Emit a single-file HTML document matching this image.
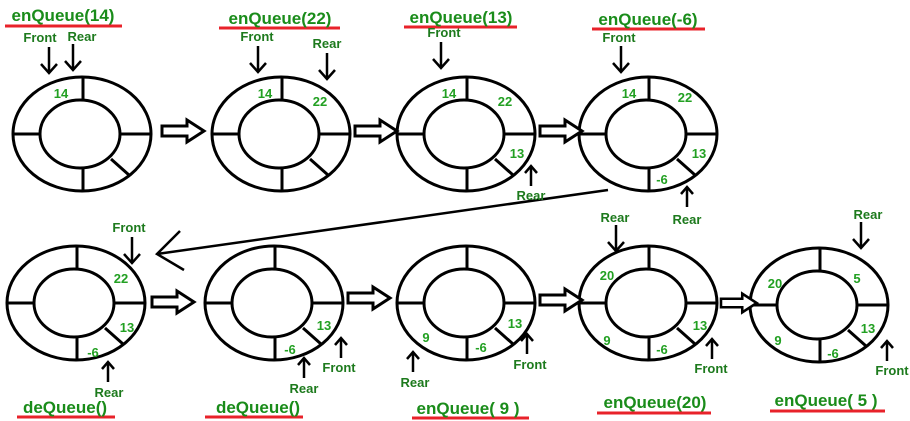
<!DOCTYPE html>
<html><head><meta charset="utf-8"><style>
html,body{margin:0;padding:0;background:#fff;}
svg{display:block;}
text{font-family:"Liberation Sans",sans-serif;font-weight:bold;}
.t{fill:#1a8c1a;font-size:17px;font-weight:bold;font-family:"Liberation Sans",sans-serif;}
.n{fill:#22a022;font-size:13px;}
.p{fill:#1d7a1d;font-size:13px;}
</style></head><body>
<svg width="910" height="421" viewBox="0 0 910 421" xmlns="http://www.w3.org/2000/svg">
<defs>
<g id="ring" fill="none" stroke="#000" stroke-width="3">
<ellipse cx="0" cy="0" rx="69" ry="57"/>
<ellipse cx="-2" cy="0" rx="40" ry="34"/>
<line x1="1" y1="-57" x2="1" y2="-34"/>
<line x1="1" y1="57" x2="1" y2="34"/>
<line x1="-69" y1="0" x2="-42" y2="0"/>
<line x1="38" y1="0" x2="69" y2="0"/>
<line x1="29" y1="25" x2="47" y2="41"/>
</g>
<g id="ba"><path d="M0,-5 H25 V-11 L42,0 L25,11 V5 H0 Z" fill="#fff" stroke="#000" stroke-width="3"/></g>
<g id="da" stroke="#000" stroke-width="2.5" fill="none"><line x1="0" y1="0" x2="0" y2="26"/><path d="M-8,17 L0,26 L8,17"/></g>
<g id="ua" stroke="#000" stroke-width="2.5" fill="none"><line x1="0" y1="0" x2="0" y2="-20"/><path d="M-6,-13 L0,-20 L6,-13"/></g>
</defs>

<use href="#ring" x="82" y="134"/>
<use href="#ring" x="281" y="134"/>
<use href="#ring" x="466" y="134"/>
<use href="#ring" x="648" y="134"/>
<use href="#ring" x="76" y="303"/>
<use href="#ring" x="274" y="303"/>
<use href="#ring" x="466" y="303"/>
<use href="#ring" x="648" y="303"/>
<use href="#ring" x="819" y="305"/>

<use href="#ba" x="162" y="131"/>
<use href="#ba" x="355" y="131"/>
<use href="#ba" x="540" y="131"/>
<use href="#ba" x="152" y="302"/>
<use href="#ba" x="348" y="298"/>
<use href="#ba" x="540" y="300"/>
<g transform="translate(721,303) scale(0.85)"><use href="#ba"/></g>

<g stroke="#000" stroke-width="2.5" fill="none">
<line x1="608" y1="190" x2="157" y2="254"/>
<path d="M180,231 L157,254 L184,270"/>
</g>

<g stroke="#e8222a" stroke-width="3">
<line x1="5" y1="26" x2="122" y2="26"/>
<line x1="219" y1="28" x2="340" y2="28"/>
<line x1="404" y1="27" x2="517" y2="27"/>
<line x1="592" y1="29" x2="705" y2="29"/>
<line x1="17" y1="417" x2="115" y2="417"/>
<line x1="205" y1="417" x2="303" y2="417"/>
<line x1="412" y1="418" x2="529" y2="418"/>
<line x1="597" y1="413" x2="711" y2="413"/>
<line x1="770" y1="411" x2="885" y2="411"/>
</g>
<g class="t" text-anchor="middle">
<text x="63" y="21">enQueue(14)</text>
<text x="280" y="24">enQueue(22)</text>
<text x="461" y="23">enQueue(13)</text>
<text x="648" y="25">enQueue(-6)</text>
<text x="65" y="413">deQueue()</text>
<text x="258" y="413">deQueue()</text>
<text x="468" y="414">enQueue( 9 )</text>
<text x="655" y="408">enQueue(20)</text>
<text x="826" y="406">enQueue( 5 )</text>
</g>

<g class="n" text-anchor="middle">
<text x="61" y="98">14</text><text x="265" y="98">14</text><text x="449" y="98">14</text><text x="629" y="98">14</text>
<text x="320" y="106">22</text><text x="505" y="106">22</text><text x="685" y="102">22</text>
<text x="517" y="158">13</text><text x="699" y="158">13</text><text x="662" y="184">-6</text>
<text x="121" y="283">22</text>
<text x="127" y="332">13</text><text x="324" y="330">13</text><text x="515" y="328">13</text><text x="700" y="330">13</text><text x="868" y="333">13</text>
<text x="93" y="357">-6</text><text x="290" y="354">-6</text><text x="481" y="352">-6</text><text x="662" y="354">-6</text><text x="833" y="358">-6</text>
<text x="426" y="342">9</text><text x="607" y="345">9</text><text x="778" y="345">9</text>
<text x="607" y="280">20</text><text x="775" y="288">20</text><text x="857" y="283">5</text>
</g>

<g class="p" text-anchor="middle">
<text x="40" y="42">Front</text><text x="82" y="41">Rear</text>
<text x="257" y="41">Front</text><text x="327" y="48">Rear</text>
<text x="444" y="37">Front</text><text x="531" y="200">Rear</text>
<text x="619" y="42">Front</text><text x="687" y="224">Rear</text>
<text x="129" y="232">Front</text><text x="109" y="397">Rear</text>
<text x="304" y="393">Rear</text><text x="339" y="372">Front</text>
<text x="415" y="387">Rear</text><text x="530" y="369">Front</text>
<text x="615" y="222">Rear</text><text x="711" y="373">Front</text>
<text x="868" y="219">Rear</text><text x="892" y="375">Front</text>
</g>
<use href="#da" x="49" y="47"/><use href="#da" x="73" y="44"/>
<use href="#da" x="258" y="46"/><use href="#da" x="327" y="53"/>
<use href="#da" x="441" y="42"/><use href="#da" x="621" y="46"/>
<use href="#da" x="132" y="237"/><use href="#da" x="616" y="225"/><use href="#da" x="861" y="222"/>
<use href="#ua" x="531" y="186"/><use href="#ua" x="687" y="207"/>
<use href="#ua" x="108" y="382"/><use href="#ua" x="304" y="378"/><use href="#ua" x="341" y="358"/>
<use href="#ua" x="413" y="372"/><use href="#ua" x="527" y="354"/>
<use href="#ua" x="712" y="359"/><use href="#ua" x="887" y="361"/>
</svg>
</body></html>
